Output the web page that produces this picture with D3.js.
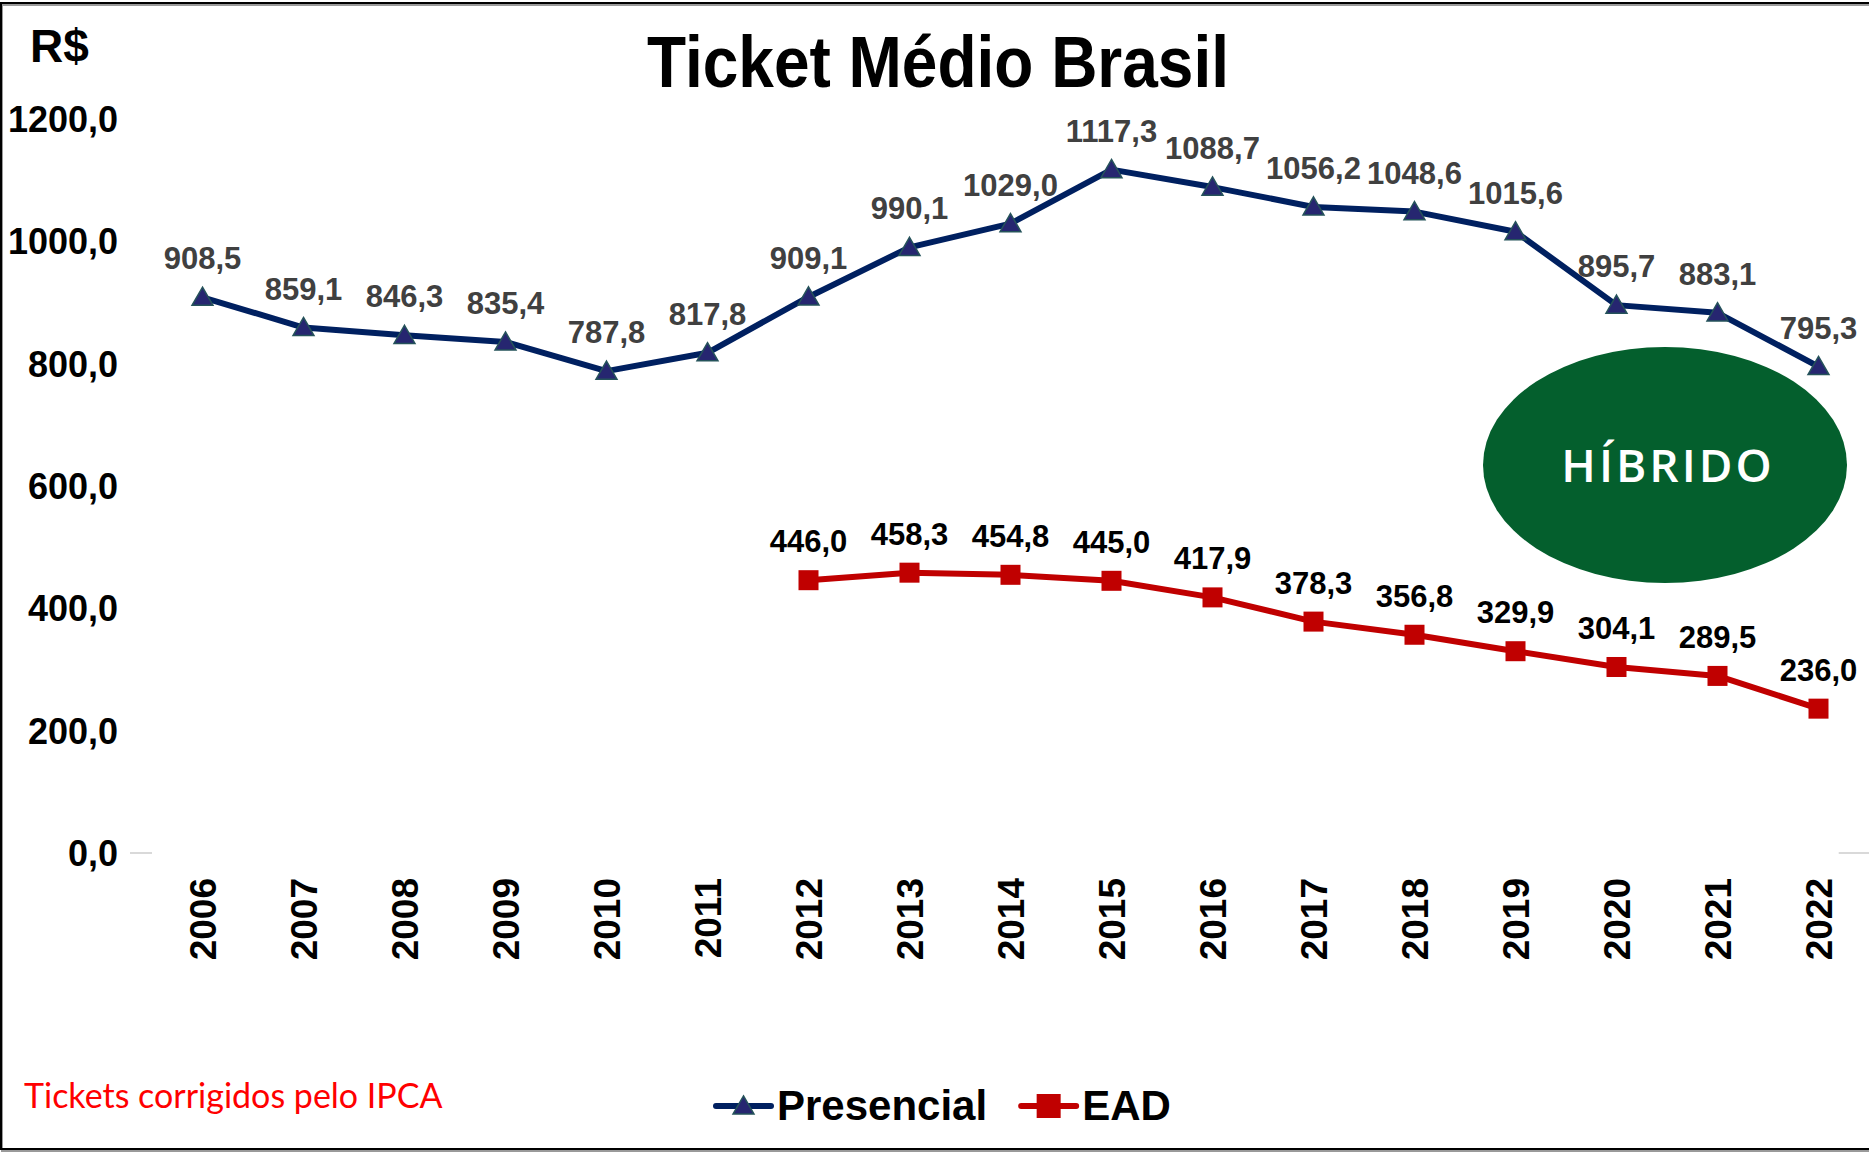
<!DOCTYPE html>
<html>
<head>
<meta charset="utf-8">
<script src="https://cdn.jsdelivr.net/npm/d3@7"></script>
<style>
  html, body { margin: 0; padding: 0; background: #fff; }
  svg { display: block; }
</style>
</head>
<body>
<svg id="chart" width="1869" height="1154"></svg>
<script>
// Ticket médio por aluno (R$), valores corrigidos pelo IPCA
const years = ["2006","2007","2008","2009","2010","2011","2012","2013","2014","2015","2016","2017","2018","2019","2020","2021","2022"];
const presencial = [908.5, 859.1, 846.3, 835.4, 787.8, 817.8, 909.1, 990.1, 1029.0, 1117.3, 1088.7, 1056.2, 1048.6, 1015.6, 895.7, 883.1, 795.3];
const ead = [null, null, null, null, null, null, 446.0, 458.3, 454.8, 445.0, 417.9, 378.3, 356.8, 329.9, 304.1, 289.5, 236.0];
const yTicks = [0, 200, 400, 600, 800, 1000, 1200];
const seriesNames = ["Presencial", "EAD"];

const W = 1869, H = 1154;
const svg = d3.select("#chart");
const FONT = "'Liberation Sans', Arial, sans-serif";

const x = d3.scalePoint().domain(years).range([152, 1869]).padding(0.5);
const y = d3.scaleLinear().domain([0, 1200]).range([853, 119]);

const fmt = v => v.toFixed(1).replace(".", ",");

// outer frame (right side runs off the canvas)
svg.append("rect").attr("x", 2).attr("y", 5).attr("width", W + 10).attr("height", H - 8)
  .attr("fill", "none").attr("stroke", "#9a9a9a").attr("stroke-width", 2);
svg.append("rect").attr("x", 1).attr("y", 3).attr("width", W + 10).attr("height", H - 8)
  .attr("fill", "none").attr("stroke", "#000").attr("stroke-width", 2);

// title and unit
svg.append("text").attr("transform", "translate(938,87) scale(1,1.14)").attr("text-anchor", "middle")
  .attr("font-family", FONT).attr("font-weight", "bold").attr("font-size", 64)
  .attr("fill", "#000").text("Ticket Médio Brasil");
svg.append("text").attr("x", 30).attr("y", 62)
  .attr("font-family", FONT).attr("font-weight", "bold").attr("font-size", 46)
  .attr("fill", "#000").text("R$");

// y axis labels
svg.append("g").selectAll("text").data(yTicks).join("text")
  .attr("x", 118).attr("y", d => y(d)).attr("dy", "0.36em")
  .attr("text-anchor", "end")
  .attr("font-family", FONT).attr("font-weight", "bold").attr("font-size", 36)
  .attr("fill", "#000").text(fmt);

// category axis baseline stubs
const x0 = x.range()[0], step = x.step();
svg.append("line").attr("x1", x0 - 22).attr("x2", x0).attr("y1", y(0)).attr("y2", y(0))
  .attr("stroke", "#d9d9d9").attr("stroke-width", 2);
svg.append("line").attr("x1", x(years[years.length - 1]) + step * 0.2).attr("x2", W)
  .attr("y1", y(0)).attr("y2", y(0)).attr("stroke", "#d9d9d9").attr("stroke-width", 2);

// x axis year labels (rotated)
svg.append("g").selectAll("text").data(years).join("text")
  .attr("transform", d => `translate(${x(d)},878) rotate(-90)`)
  .attr("dy", "0.36em").attr("text-anchor", "end")
  .attr("font-family", FONT).attr("font-weight", "bold").attr("font-size", 37)
  .attr("fill", "#000").text(d => d);

// híbrido badge
const badge = svg.append("g");
badge.append("ellipse").attr("cx", 1665).attr("cy", 465).attr("rx", 182).attr("ry", 118)
  .attr("fill", "#045F2D");
badge.append("text").attr("x", 1668).attr("y", 465).attr("dy", "0.36em")
  .attr("text-anchor", "middle").attr("font-family", "'Open Sans', 'Noto Sans', sans-serif")
  .attr("font-weight", "600").attr("font-size", 46).attr("letter-spacing", 3)
  .attr("fill", "#fff").text("HÍBRIDO");

const colors = { Presencial: "#002060", EAD: "#C00000" };
const tri = d3.symbol().type(d3.symbolTriangle).size(190);

function drawSeries(values, color, marker, labelColor) {
  const pts = years.map((yr, i) => ({ yr, v: values[i] })).filter(d => d.v != null);
  const g = svg.append("g");
  g.append("path").datum(pts)
    .attr("d", d3.line().x(d => x(d.yr)).y(d => y(d.v)))
    .attr("fill", "none").attr("stroke", color).attr("stroke-width", 6)
    .attr("stroke-linejoin", "round");
  marker(g.selectAll(".m").data(pts).join("g")
    .attr("transform", d => `translate(${x(d.yr)},${y(d.v)})`));
  g.selectAll(".lbl").data(pts).join("text")
    .attr("x", d => x(d.yr)).attr("y", d => y(d.v) - 28)
    .attr("text-anchor", "middle")
    .attr("font-family", FONT).attr("font-weight", "bold").attr("font-size", 31)
    .attr("fill", labelColor).text(d => fmt(d.v));
}

const triMarker = sel => sel.append("path").attr("d", tri).attr("transform", "translate(0,2)")
  .attr("fill", "#262670").attr("stroke", "#25535A").attr("stroke-width", 1.5);
const sqMarker = sel => sel.append("rect").attr("x", -10).attr("y", -10).attr("width", 20).attr("height", 20)
  .attr("fill", "#C00000");

drawSeries(presencial, colors.Presencial, triMarker, "#404040");
drawSeries(ead, colors.EAD, sqMarker, "#000");

// legend
const legend = svg.append("g").attr("transform", "translate(716,1106)");
let lx = 0;
seriesNames.forEach((name, i) => {
  const item = legend.append("g").attr("transform", `translate(${lx},0)`);
  item.append("line").attr("x1", 0).attr("x2", 55).attr("y1", 0).attr("y2", 0)
    .attr("stroke", colors[name]).attr("stroke-width", 6).attr("stroke-linecap", "round");
  const m = item.append("g").attr("transform", "translate(27.5,0)");
  if (i === 0) triMarker(m); else m.append("rect").attr("x", -12).attr("y", -12).attr("width", 24).attr("height", 24).attr("fill", "#C00000");
  const t = item.append("text").attr("x", 61).attr("y", 14)
    .attr("font-family", FONT).attr("font-weight", "bold").attr("font-size", 42)
    .attr("fill", "#000").text(name);
  lx += 61 + t.node().getComputedTextLength() + 34;
});

// footnote
svg.append("text").attr("x", 24).attr("y", 1108)
  .attr("font-family", "Lato, 'Open Sans', sans-serif").attr("font-size", 34)
  .attr("fill", "#FF0000").text("Tickets corrigidos pelo IPCA");
</script>
</body>
</html>
